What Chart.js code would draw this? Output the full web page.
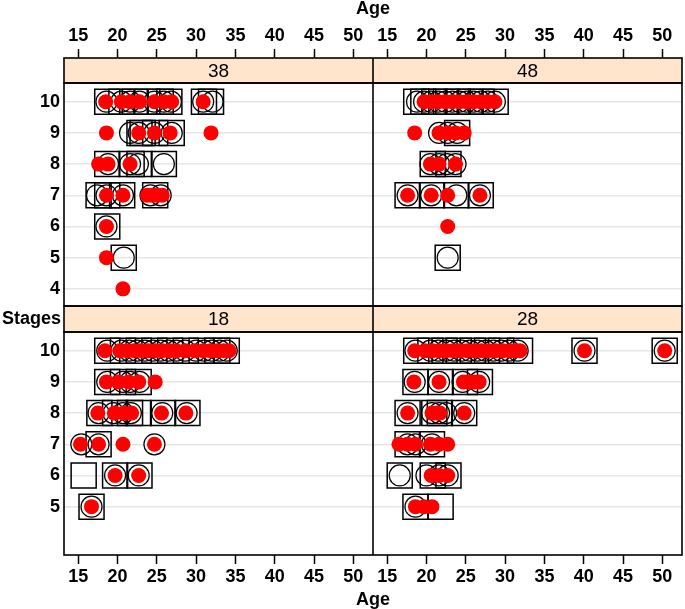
<!DOCTYPE html>
<html><head><meta charset="utf-8">
<script src="https://cdn.jsdelivr.net/npm/chart.js@4.4.0/dist/chart.umd.min.js"></script>
<style>html,body{margin:0;padding:0;background:#fff;}#wrap{width:685px;height:609px;}</style>
</head><body><div id="wrap"><canvas id="c" width="685" height="609"></canvas></div>
<script>
// ---- data ----
const ageTicks = [15, 20, 25, 30, 35, 40, 45, 50];
const stageTicksTop = [4, 5, 6, 7, 8, 9, 10];
const stageTicksBottom = [5, 6, 7, 8, 9, 10];
const panelLabels = ['38', '48', '18', '28'];
const xLabel = 'Age';
const yLabel = 'Stages';

// [age, stage] pairs; boxes = squares, rings = open circles, dots = red points
const boxes38 = [[18.7,10],[20.5,10],[22.2,10],[23.8,10],[25.5,10],[26.6,10],[31,10],[31.9,10],
  [22.8,9],[23.2,9],[24.8,9],[26.9,9],
  [18.7,8],[21.8,8],[22.8,8],[25.9,8],
  [17.6,7],[18.7,7],[20.6,7],[24.8,7],
  [18.7,6],[20.8,5]];
const rings38 = [[18.6,10],[20.5,10],[21.6,10],[22.8,10],[24.7,10],[25.9,10],[26.8,10],[30.9,10],[32.1,10],
  [21.6,9],[22.7,9],[24.7,9],[26.9,9],
  [18.8,8],[21.6,8],[22.6,8],[25.9,8],
  [17.4,7],[18.6,7],[20.7,7],[24.2,7],[25.5,7],
  [18.6,6],[20.8,5]];
const dots38 = [[18.5,10],[20.5,10],[21.6,10],[22.8,10],[24.7,10],[25.9,10],[26.9,10],[30.9,10],
  [18.6,9],[22.7,9],[24.7,9],[26.7,9],[31.9,9],
  [17.6,8],[18.8,8],[21.6,8],
  [18.6,7],[20.7,7],[23.8,7],[24.4,7],[25,7],[25.7,7],
  [18.6,6],[18.6,5],[20.7,4]];

const boxes48 = [[18.7,10],[19.6,10],[21,10],[22.5,10],[24,10],[25.5,10],[27,10],[28.8,10],
  [23.9,9],[20.8,8],[22.8,8],
  [17.6,7],[20.7,7],[23.8,7],[26.9,7],
  [22.7,5]];
const rings48 = [[18.8,10],[19.7,10],[20.6,10],[21.5,10],[22.4,10],[23.3,10],[24.2,10],[25.1,10],[26,10],[26.9,10],[27.8,10],[28.7,10],
  [21.6,9],[22.7,9],[23.9,9],
  [20.5,8],[21.6,8],[22.6,8],[23.7,8],
  [17.6,7],[20.6,7],[23.8,7],[26.8,7],
  [22.7,5]];
const dots48 = [[19.7,10],[20.6,10],[21.5,10],[22.4,10],[23.3,10],[24.2,10],[25.1,10],[26,10],[26.9,10],[27.8,10],[28.7,10],
  [18.5,9],[21.6,9],[22.7,9],[23.7,9],[24.8,9],
  [20.5,8],[21.6,8],[23.7,8],
  [17.6,7],[20.6,7],[22.7,7],[26.8,7],
  [22.7,6]];

const boxes18 = [[18.7,10],[20.7,10],[22.7,10],[24.7,10],[26.7,10],[28.7,10],[30.7,10],[32.7,10],[33.9,10],
  [18.7,9],[20.7,9],[22.7,9],
  [17.7,8],[19.7,8],[21.6,8],[22.7,8],[25.8,8],[28.9,8],
  [17.6,7],
  [15.7,6],[19.7,6],[22.8,6],
  [16.7,5]];
const rings18 = [[18.7,10],[20.5,10],[21.5,10],[22.5,10],[23.5,10],[24.5,10],[25.5,10],[26.5,10],[27.5,10],[28.6,10],[30,10],[31,10],[32,10],[33,10],[33.9,10],
  [18.7,9],[20.7,9],[21.6,9],[22.8,9],
  [17.6,8],[19.5,8],[20.7,8],[21.7,8],[25.7,8],[28.8,8],
  [15.4,7],[17.6,7],[24.7,7],
  [19.7,6],[22.7,6],
  [16.7,5]];
const dots18 = [[18.4,10],[20.3,10],[21.2,10],[22.1,10],[23,10],[23.9,10],[24.8,10],[25.7,10],[26.6,10],[27.5,10],[28.6,10],[29.8,10],[30.9,10],[31.8,10],[32.7,10],[33.5,10],[34.2,10],
  [18.6,9],[20.1,9],[21.4,9],[22.7,9],[24.8,9],
  [17.5,8],[19.6,8],[20.8,8],[21.8,8],[25.6,8],[28.7,8],
  [15.3,7],[17.6,7],[20.7,7],[24.7,7],
  [19.7,6],[22.7,6],
  [16.7,5]];

const boxes28 = [[18.7,10],[20.5,10],[22.3,10],[24.1,10],[25.9,10],[27.7,10],[29.5,10],[31.9,10],[40.1,10],[50.3,10],
  [18.6,9],[21.8,9],[24.9,9],[26.8,9],
  [17.6,8],[21,8],[21.7,8],[24.8,8],
  [17.6,7],[20.7,7],
  [16.6,6],[20.8,6],[22.8,6],
  [18.6,5],[21.8,5]];
const rings28 = [[18.6,10],[20.5,10],[21.5,10],[22.5,10],[23.5,10],[24.5,10],[25.5,10],[26.5,10],[27.5,10],[28.5,10],[29.5,10],[30.5,10],[31.6,10],[40.1,10],[50.3,10],
  [18.5,9],[21.6,9],[24.6,9],[26.7,9],
  [17.6,8],[20.7,8],[21.6,8],[22.5,8],[24.8,8],
  [17.6,7],[18.6,7],[20.7,7],
  [16.6,6],[20,6],[21.6,6],[22.7,6],
  [18.6,5]];
const dots28 = [[18.5,10],[19.8,10],[20.7,10],[21.6,10],[22.5,10],[23.4,10],[24.3,10],[25.2,10],[26.1,10],[27,10],[27.9,10],[28.8,10],[29.7,10],[30.6,10],[31.3,10],[31.9,10],[40.1,10],[50.3,10],
  [18.4,9],[21.6,9],[24.7,9],[25.4,9],[26.1,9],[26.7,9],
  [17.6,8],[20.7,8],[21.3,8],[21.7,8],[24.8,8],
  [16.5,7],[17.6,7],[18.6,7],[20.5,7],[21.6,7],[22.7,7],
  [20.6,6],[21.6,6],[22.7,6],
  [18.6,5],[19.7,5],[20.7,5]];

// ---- styling ----
const NARROW = "'Liberation Sans Narrow', 'Liberation Sans', Arial, sans-serif";
const SANS = "'Liberation Sans', Arial, sans-serif";
const STRIP_BG = '#ffe5cc';

const styles = {
  dot:  {pointStyle: 'circle', pointRadius: 7.5, pointBackgroundColor: '#ff0000', pointBorderColor: '#ff0000', pointBorderWidth: 0, order: 0},
  ring: {pointStyle: 'circle', pointRadius: 10.5, pointBackgroundColor: 'rgba(0,0,0,0)', pointBorderColor: '#000', pointBorderWidth: 1.2, order: 1},
  box:  {pointStyle: 'rect', pointRadius: 17.7, pointBackgroundColor: 'rgba(0,0,0,0)', pointBorderColor: '#000', pointBorderWidth: 1.5, order: 2}
};
function series(pairs, kind, xID, yID) {
  return Object.assign({
    data: pairs.map(p => ({x: p[0], y: p[1]})),
    xAxisID: xID, yAxisID: yID, showLine: false,
    pointHoverRadius: styles[kind].pointRadius
  }, styles[kind]);
}
const datasets = [
  series(dots38, 'dot', 'xTL', 'yTop'), series(rings38, 'ring', 'xTL', 'yTop'), series(boxes38, 'box', 'xTL', 'yTop'),
  series(dots48, 'dot', 'xTR', 'yTop'), series(rings48, 'ring', 'xTR', 'yTop'), series(boxes48, 'box', 'xTR', 'yTop'),
  series(dots18, 'dot', 'xBL', 'yBot'), series(rings18, 'ring', 'xBL', 'yBot'), series(boxes18, 'box', 'xBL', 'yBot'),
  series(dots28, 'dot', 'xBR', 'yBot'), series(rings28, 'ring', 'xBR', 'yBot'), series(boxes28, 'box', 'xBR', 'yBot')
];

const tickFontX = {family: NARROW, size: 18, weight: 'bold'};
const tickFontY = {family: SANS, size: 18, weight: 'bold'};

function noPad(s) { s.paddingLeft = 0; s.paddingRight = 0; s.paddingTop = 0; s.paddingBottom = 0; }

function xAxis(pos, weight) {
  return {
    type: 'linear', position: pos, stack: pos === 'top' ? 'xt' : 'xb', stackWeight: 1, weight: weight,
    min: 13.2, max: 52.5, bounds: 'data',
    afterBuildTicks: s => { s.ticks = ageTicks.map(v => ({value: v})); },
    afterFit: s => { s.height = pos === 'top' ? 40 : 36; noPad(s); },
    grid: {display: true, drawOnChartArea: false, drawTicks: true, tickLength: 9, tickWidth: 1.5, tickColor: '#000'},
    border: {display: false},
    ticks: {font: tickFontX, color: '#000', padding: 2, maxRotation: 0, autoSkip: false}
  };
}
function yPanel(weight, tickVals) {
  return {
    type: 'linear', position: 'left', stack: 'y', stackWeight: 223, weight: weight,
    min: 3.45, max: 10.6, bounds: 'data',
    afterBuildTicks: s => { s.ticks = tickVals.map(v => ({value: v})); },
    afterFit: s => { s.width = 64; noPad(s); },
    grid: {display: true, drawOnChartArea: true, drawTicks: false, color: '#e6e6e6', lineWidth: 1.5},
    border: {display: false},
    ticks: {font: tickFontY, color: '#000', padding: 4, autoSkip: false}
  };
}
function yStrip(weight, h, label) {
  return {
    type: 'linear', position: 'left', stack: 'y', stackWeight: h, weight: weight,
    min: 0, max: 1, bounds: 'data',
    afterBuildTicks: s => { s.ticks = [{value: 0.5}]; },
    afterFit: s => { s.width = 64; noPad(s); },
    grid: {display: false, drawTicks: false},
    border: {display: false},
    ticks: {display: !!label, font: {family: SANS, size: 18, weight: 'bold'}, color: '#000', padding: 3,
            callback: () => label || ''}
  };
}

const stripPlugin = {
  id: 'strips',
  beforeDatasetsDraw(chart) {
    const {ctx, scales} = chart;
    const L = scales.xTL.left, M = scales.xTL.right, R = scales.xTR.right;
    const rows = [[scales.ySTop, panelLabels[0], panelLabels[1]], [scales.yMid, panelLabels[2], panelLabels[3]]];
    ctx.save();
    rows.forEach(([ys, a, b]) => {
      ctx.fillStyle = STRIP_BG;
      ctx.fillRect(L, ys.top, R - L, ys.bottom - ys.top);
      ctx.fillStyle = '#000';
      ctx.font = '19px ' + SANS;
      ctx.textAlign = 'center';
      ctx.textBaseline = 'middle';
      const cy = (ys.top + ys.bottom) / 2 + 1;
      ctx.fillText(a, (L + M) / 2, cy);
      ctx.fillText(b, (M + R) / 2, cy);
    });
    ctx.restore();
  },
  afterDatasetsDraw(chart) {
    const {ctx, scales} = chart;
    const L = scales.xTL.left, M = scales.xTL.right, R = scales.xTR.right;
    ctx.save();
    ctx.strokeStyle = '#000';
    ctx.lineWidth = 1.6;
    [scales.ySTop, scales.yTop, scales.yMid, scales.yBot].forEach(ys => {
      ctx.strokeRect(L, ys.top, R - L, ys.bottom - ys.top);
    });
    ctx.beginPath();
    ctx.moveTo(M, scales.ySTop.top);
    ctx.lineTo(M, scales.yBot.bottom);
    ctx.stroke();
    ctx.restore();
  }
};

new Chart(document.getElementById('c'), {
  type: 'scatter',
  data: {datasets: datasets},
  options: {
    responsive: false,
    animation: false,
    events: [],
    layout: {autoPadding: false, padding: {left: 0, right: 3, top: 0, bottom: 0}},
    plugins: {
      legend: {display: false},
      tooltip: {enabled: false},
      title: {display: true, text: xLabel, position: 'top', fullSize: false, color: '#000',
              font: {family: NARROW, size: 18, weight: 'bold', lineHeight: 1}, padding: 0},
      subtitle: {display: true, text: xLabel, position: 'bottom', fullSize: false, color: '#000',
              font: {family: NARROW, size: 18, weight: 'bold', lineHeight: 1}, padding: 0}
    },
    scales: {
      xTL: xAxis('top', 2),
      xTR: xAxis('top', 1),
      xBL: xAxis('bottom', 1),
      xBR: xAxis('bottom', 2),
      ySTop: yStrip(4, 25, null),
      yTop: yPanel(3, stageTicksTop),
      yMid: yStrip(2, 26, yLabel),
      yBot: yPanel(1, stageTicksBottom)
    }
  },
  plugins: [stripPlugin]
});
</script>
</body></html>
